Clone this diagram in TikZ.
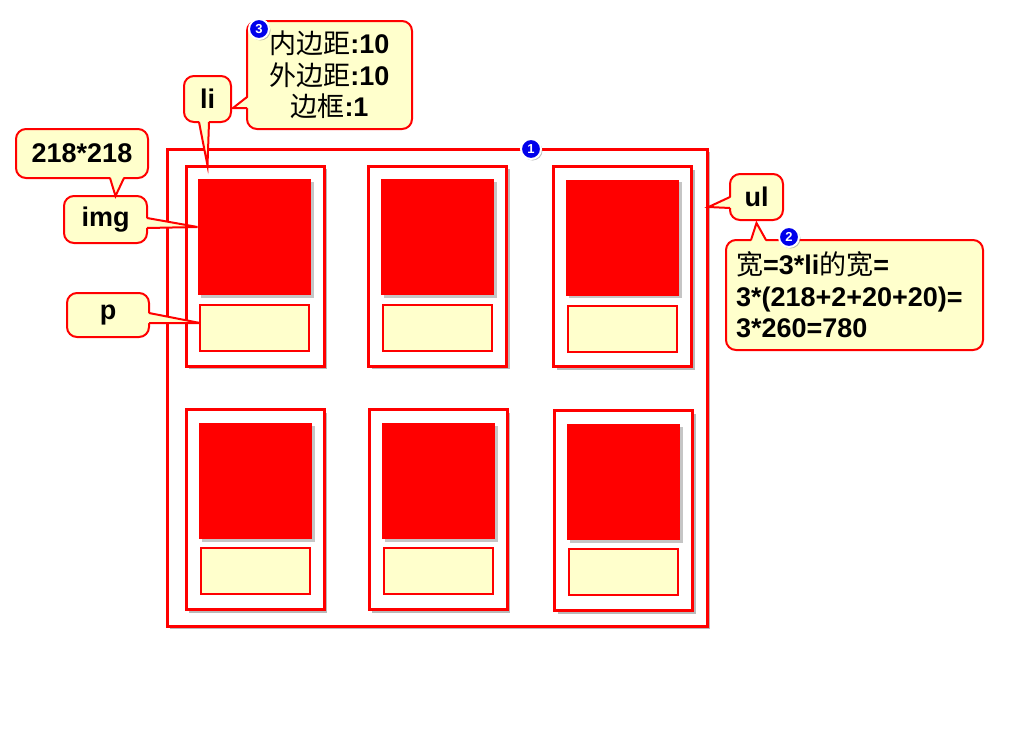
\documentclass[tikz,border=0pt]{standalone}
\usepackage{fontspec}
\setmainfont{Liberation Sans}
\newfontfamily\cjk{Noto Sans CJK SC}
\usetikzlibrary{shadows}
\usetikzlibrary{calc}
\definecolor{notey}{RGB}{255,255,204}
\definecolor{bred}{RGB}{255,0,0}
\definecolor{badgeblue}{RGB}{0,0,235}
\tikzset{every picture/.style={line width=1pt},
frame/.style={draw=bred,fill=white,line width=3pt,drop shadow={shadow xshift=3pt,shadow yshift=-3pt,opacity=0.55}},
imgbox/.style={fill=bred,minimum width=113pt,minimum height=116pt,drop shadow={shadow xshift=2.5pt,shadow yshift=-2.5pt,opacity=0.45}},
pbox/.style={draw=bred,fill=notey,line width=2pt,minimum width=109pt,minimum height=46pt},
note/.style={draw=bred,fill=notey,line width=2pt,rounded corners=10pt,inner sep=0pt,align=center,font=\fontsize{27}{31.5}\selectfont\bfseries},
tipfill/.style={fill=notey},
tipline/.style={draw=bred,line width=2pt,line join=miter},
badge/.style={circle,fill=badgeblue,draw=white,line width=2pt,minimum size=20pt,inner sep=0pt,text=white,font=\fontsize{13}{13}\selectfont\bfseries,drop shadow={shadow xshift=1.5pt,shadow yshift=-1.5pt,opacity=0.5}}}
\newcommand{\zh}[1]{{\cjk\mdseries #1}}
\begin{document}
\begin{tikzpicture}[x=1pt,y=-1pt]
\useasboundingbox (0,0) rectangle (1024,728);

% ul and li frames
\node (ul) at (437,387.5) [frame,minimum width=540pt,minimum height=477pt] {};
\node (li1) at (255,266) [frame,minimum width=138pt,minimum height=200pt] {};
\node (li2) at (437.5,266) [frame,minimum width=138pt,minimum height=200pt] {};
\node (li3) at (622.5,266.5) [frame,minimum width=138pt,minimum height=200pt] {};
\node (li4) at (255,509.5) [frame,minimum width=138pt,minimum height=200pt] {};
\node (li5) at (438,509.5) [frame,minimum width=138pt,minimum height=200pt] {};
\node (li6) at (623.5,510.5) [frame,minimum width=138pt,minimum height=200pt] {};

% img and p
\node (img1) at (254.5,237) [imgbox] {};
\node (img2) at (437.5,237) [imgbox] {};
\node (img3) at (622.5,237.5) [imgbox] {};
\node (img4) at (255.5,481) [imgbox] {};
\node (img5) at (438.5,481) [imgbox] {};
\node (img6) at (623.5,482) [imgbox] {};
\node (p1) at (254.5,328) [pbox] {};
\node (p2) at (437.5,328) [pbox] {};
\node (p3) at (622.5,328.5) [pbox] {};
\node (p4) at (255.5,571) [pbox] {};
\node (p5) at (438.5,571) [pbox] {};
\node (p6) at (623.5,572) [pbox] {};

% callouts
\node (sizenote) at (82,153.5) [note,minimum width=132pt,minimum height=49pt] {218*218};
\node (imgnote) at (105.5,219.5) [note,minimum width=83pt,minimum height=47pt] {img};
\node (pnote) at (108,315) [note,minimum width=82pt,minimum height=44pt] {p};
\node (linote) at (207.5,99) [note,minimum width=47pt,minimum height=46pt] {li};
\node (boxnote) at (329.5,75) [note,minimum width=165pt,minimum height=108pt] {\zh{内边距}:10\\\zh{外边距}:10\\\zh{边框}:1};
\node (ulnote) at (756.5,197) [note,minimum width=53pt,minimum height=46pt] {ul};
\node (calcnote) at (854.5,295) [note,minimum width=257pt,minimum height=110pt,align=left,text width=237pt] {\zh{宽}=3*li\zh{的宽}=\\3*(218+2+20+20)=\\3*260=780};

\coordinate (sizetip) at ($(imgnote.north)+(10,1)$);
\coordinate (imgtip) at ($(img1.west)+(0,-10)$);
\coordinate (ptip) at ($(p1.west)+(1,-5)$);
\coordinate (litip) at ($(li1.north west)+(23,1)$);
\coordinate (boxtip) at ($(linote.east)+(1,9)$);
\coordinate (ultip) at ($(ul.east)+(0,-180.5)$);
\coordinate (calctip) at ($(ulnote.south)+(0,2)$);

% pointers
\fill[tipfill] ($(sizenote.south)+(28,-3)$) -- (sizetip) -- ($(sizenote.south)+(42,-3)$) -- cycle;
\draw[tipline] ($(sizenote.south)+(28,-1)$) -- (sizetip) -- ($(sizenote.south)+(42,-1)$);
\fill[tipfill] ($(imgnote.east)+(-3,-1.5)$) -- (imgtip) -- ($(imgnote.east)+(-3,8.5)$) -- cycle;
\draw[tipline] ($(imgnote.east)+(-1,-1.5)$) -- (imgtip) -- ($(imgnote.east)+(-1,8.5)$);
\fill[tipfill] ($(pnote.east)+(-3,-2)$) -- (ptip) -- ($(pnote.east)+(-3,8)$) -- cycle;
\draw[tipline] ($(pnote.east)+(-1,-2)$) -- (ptip) -- ($(pnote.east)+(-1,8)$);
\fill[tipfill] ($(linote.south)+(-8.5,-3)$) -- (litip) -- ($(linote.south)+(1.5,-3)$) -- cycle;
\draw[tipline] ($(linote.south)+(-8.5,-1)$) -- (litip) -- ($(linote.south)+(1.5,-1)$);
\fill[tipfill] ($(boxnote.west)+(3,22)$) -- (boxtip) -- ($(boxnote.west)+(3,33)$) -- cycle;
\draw[tipline] ($(boxnote.west)+(1,22)$) -- (boxtip) -- ($(boxnote.west)+(1,33)$);
\fill[tipfill] ($(ulnote.west)+(3,0)$) -- (ultip) -- ($(ulnote.west)+(3,11)$) -- cycle;
\draw[tipline] ($(ulnote.west)+(1,0)$) -- (ultip) -- ($(ulnote.west)+(1,11)$);
\fill[tipfill] ($(calcnote.north west)+(26,3)$) -- (calctip) -- ($(calcnote.north west)+(41,3)$) -- cycle;
\draw[tipline] ($(calcnote.north west)+(26,1)$) -- (calctip) -- ($(calcnote.north west)+(41,1)$);

% badges
\node (b1) at (531,149) [badge] {1};
\node (b2) at (789,237) [badge] {2};
\node (b3) at (259,29) [badge] {3};
\end{tikzpicture}
\end{document}
